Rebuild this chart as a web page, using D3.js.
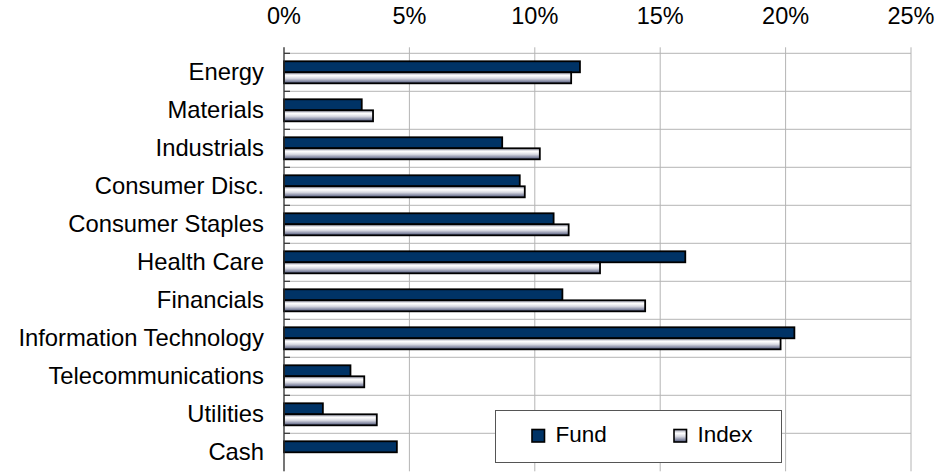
<!DOCTYPE html>
<html>
<head>
<meta charset="utf-8">
<script src="https://cdn.jsdelivr.net/npm/d3@7"></script>
<style>
  body { margin: 0; background: #fff; }
  svg { display: block; font-family: "Liberation Sans", Arial, sans-serif; }
</style>
</head>
<body>
<div id="chart"></div>
<script>
const sectors = ["Energy", "Materials", "Industrials", "Consumer Disc.", "Consumer Staples",
  "Health Care", "Financials", "Information Technology", "Telecommunications", "Utilities", "Cash"];
const fund  = [11.8, 3.1, 8.7, 9.4, 10.75, 16.0, 11.1, 20.35, 2.65, 1.55, 4.5];
const index = [11.45, 3.55, 10.2, 9.6, 11.35, 12.6, 14.4, 19.8, 3.2, 3.7, 0];
const seriesNames = ["Fund", "Index"];
const xTicks = [0, 5, 10, 15, 20, 25];

(() => {
  const width = 945, height = 472;
  const left = 284, right = 911, top = 53.3, bottom = 471.3;

  const svg = d3.select("#chart").append("svg")
    .attr("width", width)
    .attr("height", height);

  const defs = svg.append("defs");
  const grad = defs.append("linearGradient")
    .attr("id", "idxGrad")
    .attr("x1", 0).attr("y1", 0).attr("x2", 0).attr("y2", 1);
  grad.append("stop").attr("offset", "0%").attr("stop-color", "#9a9cae");
  grad.append("stop").attr("offset", "30%").attr("stop-color", "#ffffff");
  grad.append("stop").attr("offset", "55%").attr("stop-color", "#d8d9e2");
  grad.append("stop").attr("offset", "100%").attr("stop-color", "#4c5478");

  const x = d3.scaleLinear().domain([0, 25]).range([left, right]);
  const y = d3.scaleBand().domain(sectors).range([top, bottom])
    .paddingInner(0.42).paddingOuter(0.21);
  const step = y.step();

  // vertical gridlines
  svg.append("g").selectAll("line")
    .data(xTicks)
    .join("line")
    .attr("x1", d => x(d)).attr("x2", d => x(d))
    .attr("y1", top - 6).attr("y2", bottom)
    .attr("stroke", "#b4b4b4")
    .attr("stroke-width", 1);

  // horizontal gridlines at category boundaries
  svg.append("g").selectAll("line")
    .data(d3.range(sectors.length))
    .join("line")
    .attr("x1", left).attr("x2", right)
    .attr("y1", i => top + i * step).attr("y2", i => top + i * step)
    .attr("stroke", "#b4b4b4")
    .attr("stroke-width", 1);

  // top axis labels
  svg.append("g").selectAll("text")
    .data(xTicks)
    .join("text")
    .attr("x", d => x(d))
    .attr("y", 24)
    .attr("text-anchor", "middle")
    .style("font-size", "23.5px")
    .style("fill", "#000")
    .text(d => d + "%");

  // bars
  const sub = d3.scaleBand().domain(seriesNames).range([0, y.bandwidth()]);
  const rows = sectors.map((s, i) => ({ s, vals: [fund[i], index[i]] }));

  const g = svg.append("g");
  rows.forEach(r => {
    r.vals.forEach((v, k) => {
      if (v <= 0) return;
      g.append("rect")
        .attr("x", x(0))
        .attr("y", y(r.s) + sub(seriesNames[k]))
        .attr("width", x(v) - x(0))
        .attr("height", sub.bandwidth())
        .attr("fill", k === 0 ? "#003366" : "url(#idxGrad)")
        .attr("stroke", "#000")
        .attr("stroke-width", 1.8);
    });
  });

  // category axis
  svg.append("line")
    .attr("x1", left).attr("x2", left)
    .attr("y1", top - 6).attr("y2", bottom)
    .attr("stroke", "#333")
    .attr("stroke-width", 1.2);
  svg.append("g").selectAll("line")
    .data(d3.range(sectors.length))
    .join("line")
    .attr("x1", left).attr("x2", left + 6)
    .attr("y1", i => top + i * step).attr("y2", i => top + i * step)
    .attr("stroke", "#333")
    .attr("stroke-width", 1.2);

  svg.append("g").selectAll("text")
    .data(sectors)
    .join("text")
    .attr("x", 264)
    .attr("y", d => y(d) + y.bandwidth() / 2 + 7.5)
    .attr("text-anchor", "end")
    .style("font-size", "23.8px")
    .style("fill", "#000")
    .text(d => d);

  // legend
  const lg = svg.append("g");
  lg.append("rect")
    .attr("x", 495.5).attr("y", 410.5)
    .attr("width", 286).attr("height", 52)
    .attr("fill", "#fff")
    .attr("stroke", "#555")
    .attr("stroke-width", 1);
  const legendX = [532, 674];
  seriesNames.forEach((n, k) => {
    lg.append("rect")
      .attr("x", legendX[k]).attr("y", 429.5)
      .attr("width", 12.5).attr("height", 12.5)
      .attr("fill", k === 0 ? "#003366" : "url(#idxGrad)")
      .attr("stroke", "#000")
      .attr("stroke-width", 1.6);
    lg.append("text")
      .attr("x", legendX[k] + 23.5)
      .attr("y", 442)
      .style("font-size", "22.5px")
      .style("fill", "#000")
      .text(n);
  });
})();
</script>
</body>
</html>
